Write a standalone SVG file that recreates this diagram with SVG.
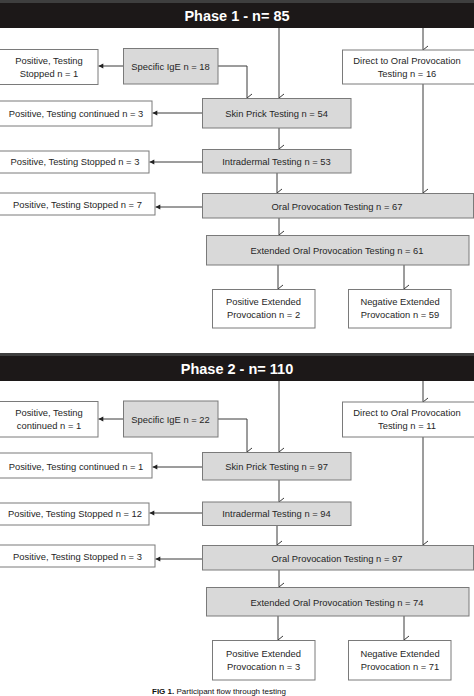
<svg xmlns="http://www.w3.org/2000/svg" width="474" height="696" viewBox="0 0 474 696">
<style>
.band{fill:#1c1818}
.bandtop{fill:#3e3e3e}
.title{font-family:"Liberation Sans",Arial,sans-serif;font-weight:bold;font-size:14.5px;fill:#fff;text-anchor:middle}
.g{fill:#d9d9d9;stroke:#7a7a7a;stroke-width:1}
.w{fill:#fff;stroke:#7a7a7a;stroke-width:1}
.t{font-family:"Liberation Sans",Arial,sans-serif;font-size:9.4px;fill:#262626;text-anchor:middle}
.c{fill:none;stroke:#3a3a3a;stroke-width:1}
.dn{marker-end:url(#v)}
.lf{marker-end:url(#tri)}
.cap{font-family:"Liberation Sans",Arial,sans-serif;font-size:8px;fill:#111}
</style>
<defs>
<marker id="v" viewBox="0 0 10 10" refX="5" refY="9" markerWidth="10" markerHeight="10" markerUnits="userSpaceOnUse" orient="auto-start-reverse">
<path d="M1,4 L5,9 L9,4" fill="none" stroke="#3a3a3a" stroke-width="1"/>
</marker>
<marker id="tri" viewBox="0 0 10 10" refX="9" refY="5" markerWidth="6" markerHeight="6" markerUnits="userSpaceOnUse" orient="auto">
<path d="M1,1 L9,5 L1,9 Z" fill="#222"/>
</marker>
</defs>
<rect width="474" height="696" fill="#fff"/>

<g id="phase1-header">
<rect class="band" x="0" y="0" width="474" height="28"/>
<rect class="bandtop" x="0" y="0" width="474" height="3"/>
<text class="title" x="237" y="20.5">Phase 1 - n= 85</text>
</g>
<g id="phase2-header">
<rect class="band" x="0" y="353" width="474" height="28"/>
<rect class="bandtop" x="0" y="353" width="474" height="3"/>
<text class="title" x="237" y="373.5">Phase 2 - n= 110</text>
</g>

<g id="connectors">
<!-- phase 1 -->
<path class="c dn" d="M279,28 V98"/>
<path class="c dn" d="M218,66 H247 V98"/>
<path class="c lf" d="M123,66 H98.5"/>
<path class="c dn" d="M423,28 V50"/>
<path class="c dn" d="M423,84 V193"/>
<path class="c lf" d="M202,113 H152.5"/>
<path class="c dn" d="M279,128 V149"/>
<path class="c lf" d="M202,162 H149.5"/>
<path class="c dn" d="M277,173 V193"/>
<path class="c lf" d="M202,207 H155.5"/>
<path class="c dn" d="M279,218 V235"/>
<path class="c dn" d="M278,265 V289"/>
<path class="c dn" d="M404,265 V289"/>
<!-- phase 2 -->
<path class="c dn" d="M279,381 V452"/>
<path class="c dn" d="M218,419 H247 V452"/>
<path class="c lf" d="M123,419 H98.5"/>
<path class="c dn" d="M423,381 V402"/>
<path class="c dn" d="M423,437 V545"/>
<path class="c lf" d="M202,467 H152.5"/>
<path class="c dn" d="M279,480 V502"/>
<path class="c lf" d="M202,513 H149.5"/>
<path class="c dn" d="M277,525 V545"/>
<path class="c lf" d="M202,559 H155.5"/>
<path class="c dn" d="M279,570 V587"/>
<path class="c dn" d="M278,616 V640"/>
<path class="c dn" d="M404,616 V640"/>
</g>

<!-- Phase 1 nodes -->
<g id="p1-pos-stopped-1">
<rect class="w" x="-1" y="49.5" width="99" height="35"/>
<text class="t" x="49" y="64">Positive, Testing</text>
<text class="t" x="49" y="76.5">Stopped n = 1</text>
</g>
<g id="p1-specific-ige">
<rect class="g" x="123.5" y="48.5" width="94.5" height="35.5"/>
<text class="t" x="170.5" y="69.5">Specific IgE n = 18</text>
</g>
<g id="p1-direct">
<rect class="w" x="342.5" y="50" width="132" height="34"/>
<text class="t" x="407" y="64">Direct to Oral Provocation</text>
<text class="t" x="407" y="76.5">Testing n = 16</text>
</g>
<g id="p1-skin-prick">
<rect class="g" x="202.5" y="98.5" width="148.5" height="29.5"/>
<text class="t" x="276.5" y="116.5">Skin Prick Testing n = 54</text>
</g>
<g id="p1-pos-continued-3">
<rect class="w" x="-1" y="101" width="153" height="25"/>
<text class="t" x="76" y="116.5">Positive, Testing continued n = 3</text>
</g>
<g id="p1-intradermal">
<rect class="g" x="202.5" y="149.5" width="148.5" height="23.5"/>
<text class="t" x="276.5" y="165">Intradermal Testing n = 53</text>
</g>
<g id="p1-pos-stopped-3">
<rect class="w" x="-1" y="151" width="150" height="22"/>
<text class="t" x="75" y="165">Positive, Testing Stopped n = 3</text>
</g>
<g id="p1-oral">
<rect class="g" x="202.5" y="193.5" width="271" height="24.5"/>
<text class="t" x="337" y="209.5">Oral Provocation Testing n = 67</text>
</g>
<g id="p1-pos-stopped-7">
<rect class="w" x="-1" y="193" width="156" height="22"/>
<text class="t" x="77.5" y="208">Positive, Testing Stopped n = 7</text>
</g>
<g id="p1-extended">
<rect class="g" x="206.5" y="235.5" width="262.5" height="29.5"/>
<text class="t" x="337" y="253.5">Extended Oral Provocation Testing n = 61</text>
</g>
<g id="p1-pos-extended">
<rect class="w" x="212.5" y="289.5" width="102.5" height="38.5"/>
<text class="t" x="263.5" y="305">Positive Extended</text>
<text class="t" x="263.5" y="318">Provocation n = 2</text>
</g>
<g id="p1-neg-extended">
<rect class="w" x="348.5" y="289.5" width="102.5" height="38.5"/>
<text class="t" x="400" y="305">Negative Extended</text>
<text class="t" x="400" y="318">Provocation n = 59</text>
</g>

<!-- Phase 2 nodes -->
<g id="p2-pos-continued-1a">
<rect class="w" x="-1" y="401.5" width="99" height="35.5"/>
<text class="t" x="49" y="416">Positive, Testing</text>
<text class="t" x="49" y="429">continued n = 1</text>
</g>
<g id="p2-specific-ige">
<rect class="g" x="123.5" y="401" width="94.5" height="36"/>
<text class="t" x="170.5" y="422.5">Specific IgE n = 22</text>
</g>
<g id="p2-direct">
<rect class="w" x="342.5" y="402" width="132" height="35"/>
<text class="t" x="407" y="416">Direct to Oral Provocation</text>
<text class="t" x="407" y="429">Testing n = 11</text>
</g>
<g id="p2-skin-prick">
<rect class="g" x="202.5" y="452.5" width="148.5" height="27.5"/>
<text class="t" x="276.5" y="470">Skin Prick Testing n = 97</text>
</g>
<g id="p2-pos-continued-1b">
<rect class="w" x="-1" y="453" width="153" height="25"/>
<text class="t" x="76" y="470">Positive, Testing continued n = 1</text>
</g>
<g id="p2-intradermal">
<rect class="g" x="202.5" y="502" width="148.5" height="23.5"/>
<text class="t" x="276.5" y="516.5">Intradermal Testing n = 94</text>
</g>
<g id="p2-pos-stopped-12">
<rect class="w" x="-1" y="503" width="150" height="22"/>
<text class="t" x="75" y="516.5">Positive, Testing Stopped n = 12</text>
</g>
<g id="p2-oral">
<rect class="g" x="202.5" y="545.5" width="271" height="24.5"/>
<text class="t" x="337" y="561.5">Oral Provocation Testing n = 97</text>
</g>
<g id="p2-pos-stopped-3">
<rect class="w" x="-1" y="545" width="156" height="22"/>
<text class="t" x="77.5" y="560">Positive, Testing Stopped n = 3</text>
</g>
<g id="p2-extended">
<rect class="g" x="206.5" y="587.5" width="262.5" height="28.5"/>
<text class="t" x="337" y="606">Extended Oral Provocation Testing n = 74</text>
</g>
<g id="p2-pos-extended">
<rect class="w" x="212.5" y="640.5" width="102.5" height="39.5"/>
<text class="t" x="263.5" y="657">Positive Extended</text>
<text class="t" x="263.5" y="670">Provocation n = 3</text>
</g>
<g id="p2-neg-extended">
<rect class="w" x="348.5" y="640.5" width="102.5" height="39.5"/>
<text class="t" x="400" y="657">Negative Extended</text>
<text class="t" x="400" y="670">Provocation n = 71</text>
</g>

<text class="cap" x="152" y="693.5"><tspan font-weight="bold">FIG 1.</tspan> Participant flow through testing</text>
</svg>
